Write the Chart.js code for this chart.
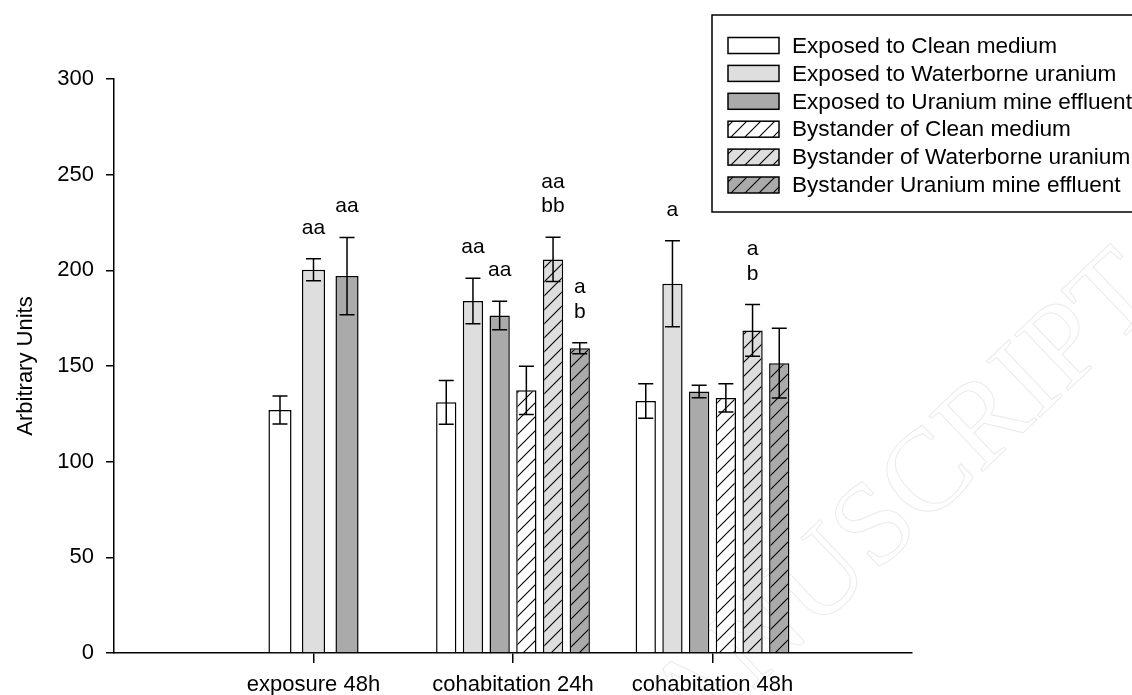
<!DOCTYPE html>
<html>
<head>
<meta charset="utf-8">
<script src="https://cdn.jsdelivr.net/npm/chart.js@4.4.1/dist/chart.umd.min.js"></script>
<style>
  html, body { margin: 0; padding: 0; background: #fff; overflow: hidden; }
</style>
</head>
<body>
<canvas id="chart1" width="1132" height="695"></canvas>
<script>
// x axis slots (first and last are empty ends of the axis)
const categories = ['', 'exposure 48h', 'cohabitation 24h', 'cohabitation 48h', ''];

// EXPOSED FISH: exposure 48h, cohabitation 24h, cohabitation 48h
const exposedClean = [127, 131, 131.7];
const exposedCleanErr = [7.3, 11.4, 9];
const exposedWater = [200.3, 184, 193];
const exposedWaterErr = [5.8, 11.9, 22.5];
const exposedMine = [197, 176.4, 136.7];
const exposedMineErr = [20.2, 7.5, 3.3];

// BYSTANDERS: cohabitation 24h, cohabitation 48h
const bystClean = [137.3, 133.3];
const bystCleanErr = [12.6, 7.4];
const bystWater = [205.7, 168.6];
const bystWaterErr = [11.6, 13.5];
const bystMine = [159.3, 151.5];
const bystMineErr = [2.9, 18.2];

// significance letters
const exposedWaterLetters = ['aa', 'aa', 'a'];
const exposedMineLetters = ['aa', 'aa', ''];
const bystWaterLetters = ['aa\nbb', 'a\nb'];
const bystMineLetters = ['a\nb', ''];

const seriesNames = [
  'Exposed to Clean medium',
  'Exposed to Waterborne uranium',
  'Exposed to Uranium mine effluent',
  'Bystander of Clean medium',
  'Bystander of Waterborne uranium',
  'Bystander Uranium mine effluent'
];

const FONT = 'Arial, "Liberation Sans", sans-serif';
const WHITE = '#ffffff', LIGHT = '#dedede', DARK = '#aaaaaa';

function hatch(color) {
  let c = document.createElement('canvas');
  c.width = 14; c.height = 14;
  let g = c.getContext('2d');
  g.fillStyle = color;
  g.fillRect(0, 0, 14, 14);
  g.strokeStyle = '#000';
  g.lineWidth = 1.1;
  g.beginPath();
  g.moveTo(0, 14); g.lineTo(14, 0);
  g.moveTo(-2, 2); g.lineTo(2, -2);
  g.moveTo(12, 16); g.lineTo(16, 12);
  g.stroke();
  return document.getElementById('chart1').getContext('2d').createPattern(c, 'repeat');
}

// put values of a series into the x slots
function slots(values, idx) {
  let out = [null, null, null, null, null];
  for (let i = 0; i < values.length; i++) out[idx[i]] = values[i];
  return out;
}

function barSet(label, values, errs, letters, idx, color, inLegend, catPct, barPct) {
  return {
    label: label,
    data: slots(values, idx),
    err: slots(errs, idx),
    letters: letters ? slots(letters, idx) : null,
    backgroundColor: color,
    borderColor: '#000',
    borderWidth: 1.5,
    categoryPercentage: catPct,
    barPercentage: barPct,
    skipNull: true,
    inLegend: inLegend
  };
}

let datasets = [];
// exposure 48h group (only exposed fish, wider spacing)
datasets.push(barSet(seriesNames[0], exposedClean.slice(0, 1), exposedCleanErr.slice(0, 1), null, [1], WHITE, false, 0.504, 0.69));
datasets.push(barSet(seriesNames[1], exposedWater.slice(0, 1), exposedWaterErr.slice(0, 1), exposedWaterLetters.slice(0, 1), [1], LIGHT, false, 0.504, 0.69));
datasets.push(barSet(seriesNames[2], exposedMine.slice(0, 1), exposedMineErr.slice(0, 1), exposedMineLetters.slice(0, 1), [1], DARK, false, 0.504, 0.69));
// cohabitation groups
datasets.push(barSet(seriesNames[0], exposedClean.slice(1), exposedCleanErr.slice(1), null, [2, 3], WHITE, true, 0.803, 0.76));
datasets.push(barSet(seriesNames[1], exposedWater.slice(1), exposedWaterErr.slice(1), exposedWaterLetters.slice(1), [2, 3], LIGHT, true, 0.803, 0.76));
datasets.push(barSet(seriesNames[2], exposedMine.slice(1), exposedMineErr.slice(1), exposedMineLetters.slice(1), [2, 3], DARK, true, 0.803, 0.76));
datasets.push(barSet(seriesNames[3], bystClean, bystCleanErr, null, [2, 3], hatch(WHITE), true, 0.803, 0.76));
datasets.push(barSet(seriesNames[4], bystWater, bystWaterErr, bystWaterLetters, [2, 3], hatch(LIGHT), true, 0.803, 0.76));
datasets.push(barSet(seriesNames[5], bystMine, bystMineErr, bystMineLetters, [2, 3], hatch(DARK), true, 0.803, 0.76));

// error bars + letters above them
const errorBars = {
  id: 'errorBars',
  afterDatasetsDraw(chart) {
    let ctx = chart.ctx, yScale = chart.scales.y;
    ctx.save();
    ctx.strokeStyle = '#000';
    ctx.lineWidth = 1.5;
    chart.data.datasets.forEach(function(ds, i) {
      let meta = chart.getDatasetMeta(i);
      meta.data.forEach(function(bar, j) {
        let v = ds.data[j], e = ds.err[j];
        if (v == null || e == null) return;
        let top = yScale.getPixelForValue(v + e);
        let bot = yScale.getPixelForValue(v - e);
        ctx.beginPath();
        ctx.moveTo(bar.x, top); ctx.lineTo(bar.x, bot);
        ctx.moveTo(bar.x - 7.5, top); ctx.lineTo(bar.x + 7.5, top);
        ctx.moveTo(bar.x - 7.5, bot); ctx.lineTo(bar.x + 7.5, bot);
        ctx.stroke();
        if (ds.letters && ds.letters[j]) {
          let lines = ds.letters[j].split('\n');
          ctx.fillStyle = '#000';
          ctx.font = '21px ' + FONT;
          ctx.textAlign = 'center';
          ctx.textBaseline = 'alphabetic';
          for (let k = 0; k < lines.length; k++) {
            ctx.fillText(lines[k], bar.x, top - 25 - (lines.length - 1 - k) * 24.5);
          }
        }
      });
    });
    ctx.restore();
  }
};

// framed legend in the upper right
const legendBox = {
  id: 'legendBox',
  afterDraw(chart) {
    let ctx = chart.ctx;
    let items = chart.data.datasets.filter(d => d.inLegend);
    ctx.save();
    ctx.lineWidth = 1.5;
    ctx.strokeStyle = '#000';
    ctx.strokeRect(712, 15, 440, 197);
    ctx.font = '22.6px ' + FONT;
    ctx.textBaseline = 'middle';
    ctx.textAlign = 'left';
    items.forEach(function(d, i) {
      let cy = 45.5 + i * 27.9;
      ctx.fillStyle = d.backgroundColor;
      ctx.fillRect(728, cy - 8, 51, 16);
      ctx.strokeRect(728, cy - 8, 51, 16);
      ctx.fillStyle = '#000';
      ctx.fillText(d.label, 792, cy + 1);
    });
    ctx.restore();
  }
};

// faint manuscript watermark behind the plot
const watermark = {
  id: 'watermark',
  beforeDraw(chart) {
    let ctx = chart.ctx;
    ctx.save();
    ctx.translate(1165, 298);
    ctx.rotate(-43.6 * Math.PI / 180);
    ctx.font = '118px "Liberation Serif", "Times New Roman", serif';
    ctx.textAlign = 'right';
    ctx.textBaseline = 'alphabetic';
    ctx.strokeStyle = '#ebebeb';
    ctx.lineWidth = 1;
    ctx.strokeText('ACCEPTED MANUSCRIPT', 0, 0);
    ctx.restore();
  }
};

let ctx1 = document.getElementById('chart1');

let myChart1 = new Chart(ctx1, {
  type: 'bar',
  data: {
    labels: categories,
    datasets: datasets
  },
  options: {
    responsive: false,
    animation: false,
    devicePixelRatio: 1,
    layout: { padding: { top: 79, right: 220, left: 0, bottom: 0 } },
    plugins: {
      legend: { display: false },
      tooltip: { enabled: false }
    },
    scales: {
      x: {
        offset: false,
        grid: {
          offset: false,
          drawOnChartArea: false,
          drawTicks: true,
          tickLength: 10,
          lineWidth: 1.5,
          color: c => (c.index >= 1 && c.index <= 3) ? '#000' : 'rgba(0,0,0,0)'
        },
        border: { display: true, color: '#000', width: 1.5 },
        ticks: {
          autoSkip: false,
          maxRotation: 0,
          color: '#000',
          padding: 9,
          font: { family: FONT, size: 22 }
        },
        afterFit: function(scale) { scale.height = 42; }
      },
      y: {
        min: 0,
        max: 300,
        grid: {
          drawOnChartArea: false,
          drawTicks: true,
          tickLength: 8,
          lineWidth: 1.5,
          color: '#000'
        },
        border: { display: true, color: '#000', width: 1.5 },
        ticks: {
          stepSize: 50,
          color: '#000',
          padding: 12,
          font: { family: FONT, size: 22 }
        },
        title: {
          display: true,
          text: 'Arbitrary Units',
          color: '#000',
          padding: { top: 13, bottom: 0 },
          font: { family: FONT, size: 22 }
        },
        afterFit: function(scale) { scale.width = 114; }
      }
    }
  },
  plugins: [watermark, errorBars, legendBox]
});
</script>
</body>
</html>
